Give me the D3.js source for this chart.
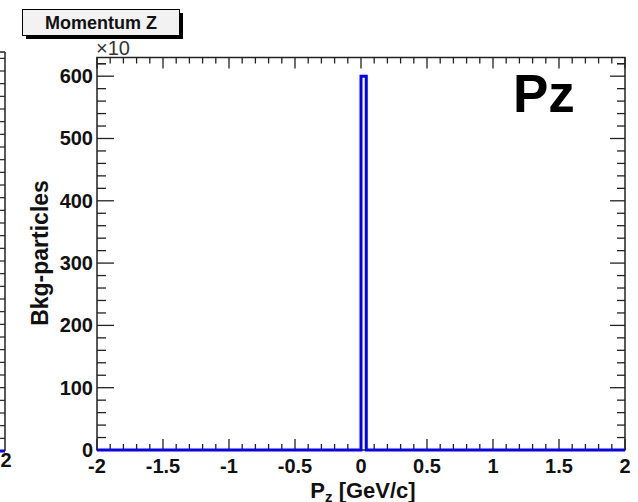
<!DOCTYPE html>
<html>
<head>
<meta charset="UTF-8">
<script src="https://d3js.org/d3.v7.min.js"></script>
<style>
  body { margin: 0; background: #fff; }
  svg { display: block; }
  text { font-family: "Liberation Sans", Arial, sans-serif; }
</style>
</head>
<body>
<div id="chart"></div>
<script>
// histogram: 100 bins from -2 to 2 (GeV/c), counts in units of x10
var binLo = -2, binHi = 2;
var counts = [
  0, 0, 0, 0, 0, 0, 0, 0, 0, 0,
  0, 0, 0, 0, 0, 0, 0, 0, 0, 0,
  0, 0, 0, 0, 0, 0, 0, 0, 0, 0,
  0, 0, 0, 0, 0, 0, 0, 0, 0, 0,
  0, 0, 0, 0, 0, 0, 0, 0, 0, 0,
  600, 0, 0, 0, 0, 0, 0, 0, 0, 0,
  0, 0, 0, 0, 0, 0, 0, 0, 0, 0,
  0, 0, 0, 0, 0, 0, 0, 0, 0, 0,
  0, 0, 0, 0, 0, 0, 0, 0, 0, 0,
  0, 0, 0, 0, 0, 0, 0, 0, 0, 0
];
var xTicks = [-2, -1.5, -1, -0.5, 0, 0.5, 1, 1.5, 2];
var xTickLabels = ["-2", "-1.5", "-1", "-0.5", "0", "0.5", "1", "1.5", "2"];
var yTicks = [0, 100, 200, 300, 400, 500, 600];
var yMax = 630;

var width = 638, height = 502;
var svg = d3.select("#chart").append("svg")
  .attr("width", width).attr("height", height);

var x = d3.scaleLinear().domain([binLo, binHi]).range([97, 625]);
var y = d3.scaleLinear().domain([0, yMax]).range([450, 57.5]);

var xMinor = d3.range(-2, 2.001, 0.1);
var yMinor = d3.range(0, yMax, 20);

// neighbouring pad (cut at left edge)
var left = svg.append("g");
var yN = d3.scaleLinear().domain([0, yMax]).range([451, 52]);
left.append("line").attr("x1", 5).attr("x2", 5).attr("y1", 52).attr("y2", 451)
  .attr("stroke", "#222").attr("stroke-width", 1.5);
left.append("line").attr("x1", 0).attr("x2", 5).attr("y1", 52).attr("y2", 52)
  .attr("stroke", "#222").attr("stroke-width", 1.5);
left.selectAll("line.nt").data(yMinor).enter().append("line")
  .attr("class", "nt")
  .attr("x1", 5).attr("x2", function (d) { return d % 100 == 0 ? -10 : -3; })
  .attr("y1", function (d) { return yN(d); }).attr("y2", function (d) { return yN(d); })
  .attr("stroke", "#222").attr("stroke-width", 1.2);
left.append("line").attr("x1", 0).attr("x2", 5).attr("y1", 451).attr("y2", 451)
  .attr("stroke", "#0000ff").attr("stroke-width", 3);
left.append("text").attr("x", 6).attr("y", 467).attr("text-anchor", "middle")
  .attr("font-size", 20).attr("font-weight", "bold").attr("fill", "#111").text("2");

// frame
svg.append("rect").attr("x", 97).attr("y", 57.5).attr("width", 528).attr("height", 392.5)
  .attr("fill", "none").attr("stroke", "#222").attr("stroke-width", 1.5);

var tickCol = "#222";
// bottom and top ticks
var xt = svg.append("g");
xMinor.forEach(function (v) {
  var r = Math.round(v * 10);
  var major = r % 5 == 0;
  var len = major ? 11 : 6;
  xt.append("line").attr("x1", x(v)).attr("x2", x(v)).attr("y1", 450).attr("y2", 450 - len)
    .attr("stroke", tickCol).attr("stroke-width", 1.3);
  xt.append("line").attr("x1", x(v)).attr("x2", x(v)).attr("y1", 57.5).attr("y2", 57.5 + len)
    .attr("stroke", tickCol).attr("stroke-width", 1.3);
});
// left and right ticks
yMinor.concat([620]).forEach(function (v) {
  var major = v % 100 == 0;
  svg.append("line").attr("x1", 97).attr("x2", 97 + (major ? 17 : 9))
    .attr("y1", y(v)).attr("y2", y(v)).attr("stroke", tickCol).attr("stroke-width", 1.3);
  svg.append("line").attr("x1", 625).attr("x2", 625 - (major ? 15 : 8))
    .attr("y1", y(v)).attr("y2", y(v)).attr("stroke", tickCol).attr("stroke-width", 1.3);
});

// tick labels
svg.selectAll("text.xl").data(xTicks).enter().append("text")
  .attr("class", "xl")
  .attr("x", function (d) { return x(d); }).attr("y", 473)
  .attr("text-anchor", "middle").attr("font-size", 20).attr("font-weight", "bold")
  .attr("fill", "#111")
  .text(function (d, i) { return xTickLabels[i]; });
svg.selectAll("text.yl").data(yTicks).enter().append("text")
  .attr("class", "yl")
  .attr("x", 93).attr("y", function (d) { return y(d) + 7; })
  .attr("text-anchor", "end").attr("font-size", 20).attr("font-weight", "bold")
  .attr("fill", "#111")
  .text(function (d) { return d; });

svg.append("text").attr("x", 96).attr("y", 55).attr("font-size", 20)
  .attr("fill", "#333").text("\u00d710");

// histogram outline
var bw = (binHi - binLo) / counts.length;
var pts = [];
counts.forEach(function (c, i) {
  pts.push([binLo + i * bw, c]);
  pts.push([binLo + (i + 1) * bw, c]);
});
var line = d3.line().x(function (d) { return x(d[0]); }).y(function (d) { return y(d[1]); });
svg.append("path").attr("d", line(pts)).attr("fill", "none")
  .attr("stroke", "#0000ff").attr("stroke-width", 3);

// axis titles
svg.append("text").attr("transform", "translate(48,253) rotate(-90)")
  .attr("text-anchor", "middle").attr("font-size", 23).attr("font-weight", "bold")
  .attr("fill", "#111")
  .text("Bkg-particles");
var xt2 = svg.append("text").attr("x", 363).attr("y", 498).attr("text-anchor", "middle")
  .attr("font-size", 22).attr("font-weight", "bold").attr("fill", "#111");
xt2.append("tspan").text("P");
xt2.append("tspan").attr("font-size", 15).attr("dy", 4).text("z");
xt2.append("tspan").attr("dy", -4).text(" [GeV/c]");

// big label
svg.append("text").attr("x", 513).attr("y", 112).attr("font-size", 53)
  .attr("font-weight", "bold").attr("fill", "#000").text("Pz");

// title box with shadow
svg.append("rect").attr("x", 26).attr("y", 13).attr("width", 157).attr("height", 26).attr("fill", "#000");
svg.append("rect").attr("x", 22.5).attr("y", 9.5).attr("width", 157).attr("height", 26)
  .attr("fill", "#f2f2f2").attr("stroke", "#000").attr("stroke-width", 1);
svg.append("text").attr("x", 101).attr("y", 29).attr("text-anchor", "middle")
  .attr("font-size", 18).attr("font-weight", "bold").attr("fill", "#111").text("Momentum Z");
</script>
</body>
</html>
